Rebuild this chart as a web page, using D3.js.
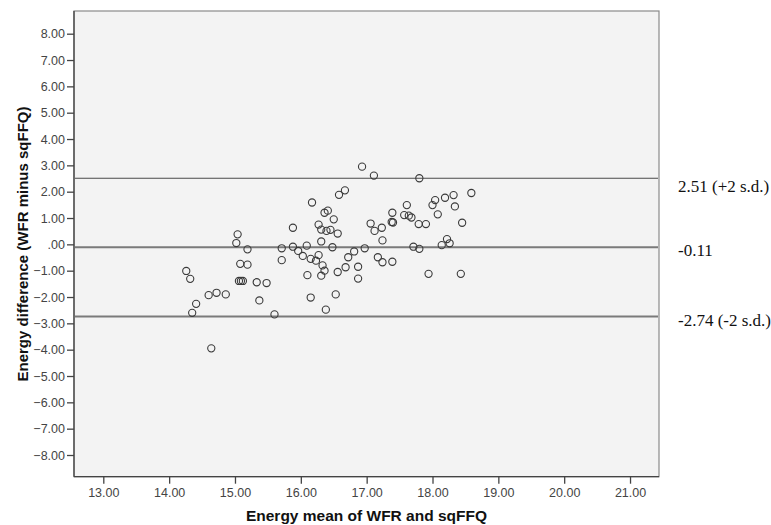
<!DOCTYPE html>
<html><head><meta charset="utf-8">
<script src="https://cdn.jsdelivr.net/npm/d3@7"></script>
<style>body{margin:0;background:#fff}svg{display:block}</style>
</head><body>
<svg id="c" width="771" height="525"></svg>
<script>
// Energy mean of WFR and sqFFQ (x) and Energy difference WFR minus sqFFQ (y)
const meanValues = [14.26,14.32,14.41,14.35,14.64,14.60,14.72,14.86,15.04,15.02,15.19,15.08,15.19,15.06,15.09,15.12,15.33,15.48,15.37,15.60,
  15.71,15.71,15.88,15.88,15.96,16.03,16.09,16.10,16.15,16.17,16.15,16.23,16.27,16.27,16.31,16.36,16.41,16.39,16.45,16.50,
  16.56,16.31,16.48,16.33,16.36,16.31,16.56,16.53,16.38,16.58,16.67,16.93,17.11,17.80,17.06,17.12,17.23,17.24,17.39,17.38,
  17.40,17.61,17.57,17.64,17.68,17.79,17.90,16.97,16.81,16.72,16.68,16.87,16.87,17.17,17.24,17.39,17.71,17.80,17.94,18.00,
  18.04,18.19,18.32,18.59,18.34,18.08,18.45,18.22,18.26,18.14,18.43];
const diffValues = [-1.01,-1.31,-2.26,-2.60,-3.95,-1.93,-1.84,-1.90,0.38,0.05,-0.19,-0.74,-0.77,-1.39,-1.39,-1.39,-1.44,-1.47,-2.13,-2.66,
  -0.15,-0.60,0.63,-0.09,-0.25,-0.44,-0.05,-1.17,-2.02,1.59,-0.55,-0.62,-0.41,0.75,0.56,1.20,1.28,0.51,0.55,0.95,
  0.41,0.11,-0.11,-0.80,-1.00,-1.19,-1.05,-1.90,-2.48,1.88,2.05,2.95,2.61,2.51,0.79,0.51,0.63,0.15,1.20,0.85,
  0.83,1.49,1.11,1.09,1.02,0.77,0.77,-0.15,-0.27,-0.49,-0.87,-0.85,-1.30,-0.49,-0.68,-0.66,-0.09,-0.17,-1.12,1.49,
  1.68,1.77,1.87,1.95,1.44,1.14,0.82,0.20,0.04,-0.03,-1.12];

const xTicks = [13,14,15,16,17,18,19,20,21];
const yTicks = [8,7,6,5,4,3,2,1,0,-1,-2,-3,-4,-5,-6,-7,-8];
const refValues = [2.51, -0.11, -2.74];
const refLabels = ["2.51 (+2 s.d.)", "-0.11", "-2.74 (-2 s.d.)"];
const xTitle = "Energy mean of WFR and sqFFQ";
const yTitle = "Energy difference (WFR minus sqFFQ)";

const svg = d3.select("#c");
const L = 74, R = 659, T = 11, B = 476.7;
const x = d3.scaleLinear().domain([12.555, 21.44]).range([L, R]);
const y = d3.scaleLinear().domain([-8.824, 8.862]).range([B, T]);

svg.append("rect").attr("x", L).attr("y", T).attr("width", R - L).attr("height", B - T)
  .attr("fill", "#f3f3f3").attr("stroke", "#8a8a8a").attr("stroke-width", 1.2);

const fmt = v => v === 0 ? ".00" : d3.format(".2f")(v);

const yAxis = svg.append("g").attr("transform", `translate(${L},0)`)
  .call(d3.axisLeft(y).tickValues(yTicks).tickFormat(fmt).tickSize(7).tickPadding(2));
const xAxis = svg.append("g").attr("transform", `translate(0,${B})`)
  .call(d3.axisBottom(x).tickValues(xTicks).tickFormat(d3.format(".2f")).tickSize(7).tickPadding(4));
[xAxis, yAxis].forEach(a => {
  a.selectAll("path.domain").attr("stroke", "#444").attr("stroke-width", 1.3);
  a.selectAll(".tick line").attr("stroke", "#444").attr("stroke-width", 1.3);
  a.selectAll(".tick text").attr("fill", "#444").style("font-family", "Liberation Sans, Arial, sans-serif").style("font-size", "12.5px");
});
xAxis.select("path.domain").attr("d", `M${L},0H${R}`);
yAxis.select("path.domain").attr("d", `M0,${T}V${B}`);

// reference lines
const refStyle = [{c:"#4a4a4a", w:1.2, dy:13.5}, {c:"#7a7a7a", w:2, dy:9}, {c:"#7a7a7a", w:2, dy:10}];
refValues.forEach((v, i) => {
  svg.append("line").attr("x1", L + 1).attr("x2", R - 1).attr("y1", y(v)).attr("y2", y(v))
    .attr("stroke", refStyle[i].c).attr("stroke-width", refStyle[i].w);
  svg.append("text").attr("x", 678).attr("y", y(v) + refStyle[i].dy)
    .style("font-family", "Liberation Serif, Times New Roman, serif").style("font-size", "17px")
    .attr("fill", "#111").text(refLabels[i]);
});

// points
svg.append("g").selectAll("circle").data(meanValues.map((m, i) => [m, diffValues[i]])).join("circle")
  .attr("cx", d => x(d[0])).attr("cy", d => y(d[1])).attr("r", 3.6)
  .attr("fill", "none").attr("stroke", "#3a3a3a").attr("stroke-width", 1.1);

// titles
svg.append("text").attr("x", 366.5).attr("y", 521).attr("text-anchor", "middle")
  .style("font-family", "Liberation Sans, Arial, sans-serif").style("font-size", "15.5px").style("font-weight", "bold")
  .attr("fill", "#111").text(xTitle);
svg.append("text").attr("transform", `translate(28,244) rotate(-90)`).attr("text-anchor", "middle")
  .style("font-family", "Liberation Sans, Arial, sans-serif").style("font-size", "15px").style("font-weight", "bold")
  .attr("fill", "#111").text(yTitle);
</script>
</body></html>
